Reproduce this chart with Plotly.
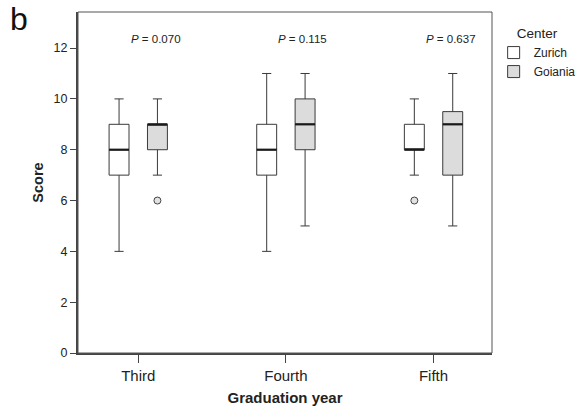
import plotly.graph_objects as go

# ---- data ----
categories = ["Third", "Fourth", "Fifth"]
groups = ["Zurich", "Goiania"]

zurich_low = [4, 4, 7]
zurich_q1 = [7, 7, 8]
zurich_median = [8, 8, 8]
zurich_q3 = [9, 9, 9]
zurich_high = [10, 11, 10]
zurich_outliers = {"Fifth": [6]}

goiania_low = [7, 5, 5]
goiania_q1 = [8, 8, 7]
goiania_median = [9, 9, 9]
goiania_q3 = [9, 10, 9.5]
goiania_high = [10, 11, 11]
goiania_outliers = {"Third": [6]}

p_values = ["0.070", "0.115", "0.637"]

y_ticks = [0, 2, 4, 6, 8, 10, 12]

# ---- style ----
FONT = "Liberation Sans, Arial, sans-serif"
LINE = "#3a3a3a"
OFFSET = 0.13
BOX_W = 0.135
CAP_W = 0.062
fills = {"Zurich": "#ffffff", "Goiania": "#dcdcdd"}

series = {
    "Zurich": dict(low=zurich_low, q1=zurich_q1, med=zurich_median, q3=zurich_q3,
                   high=zurich_high, out=zurich_outliers, off=-OFFSET),
    "Goiania": dict(low=goiania_low, q1=goiania_q1, med=goiania_median, q3=goiania_q3,
                    high=goiania_high, out=goiania_outliers, off=OFFSET),
}

fig = go.Figure()
idx = list(range(len(categories)))

for name in groups:
    s = series[name]
    xs = [i + s["off"] for i in idx]
    fig.add_trace(go.Box(
        name=name, x=xs, q1=s["q1"], median=s["med"], q3=s["q3"],
        lowerfence=s["low"], upperfence=s["high"], width=BOX_W,
        fillcolor=fills[name], line=dict(color=LINE, width=1),
        boxpoints=False, whiskerwidth=0, showlegend=True, hoverinfo="skip",
    ))
    # whisker caps
    cx, cy = [], []
    for x, lo, hi in zip(xs, s["low"], s["high"]):
        for v in (lo, hi):
            cx += [x - CAP_W / 2, x + CAP_W / 2, None]
            cy += [v, v, None]
    fig.add_trace(go.Scatter(x=cx, y=cy, mode="lines", line=dict(color=LINE, width=1),
                             showlegend=False, hoverinfo="skip"))
    # thick medians
    mx, my = [], []
    for x, m in zip(xs, s["med"]):
        mx += [x - BOX_W / 2, x + BOX_W / 2, None]
        my += [m, m, None]
    fig.add_trace(go.Scatter(x=mx, y=my, mode="lines", line=dict(color="#1a1a1a", width=2.2),
                             showlegend=False, hoverinfo="skip"))
    # outliers
    ox, oy = [], []
    for cat, vals in s["out"].items():
        for v in vals:
            ox.append(categories.index(cat) + s["off"])
            oy.append(v)
    fig.add_trace(go.Scatter(x=ox, y=oy, mode="markers",
                             marker=dict(symbol="circle", size=7, color="#e2e2e2",
                                         line=dict(color="#444", width=1)),
                             showlegend=False, hoverinfo="skip"))

annotations = []
for i, p in zip(idx, p_values):
    annotations.append(dict(
        x=i - 0.065, y=12.36, xref="x", yref="y", xanchor="left", yanchor="middle",
        text="<i>P</i> = " + p, showarrow=False,
        font=dict(family=FONT, size=11.5, color="#222")))
annotations.append(dict(
    x=-0.168, y=1.038, xref="paper", yref="paper", xanchor="left", yanchor="top",
    text="b", showarrow=False, font=dict(family=FONT, size=32, color="#111")))

fig.update_layout(
    width=582, height=412, autosize=False,
    margin=dict(l=78, r=90, t=12, b=59, autoexpand=False),
    paper_bgcolor="white", plot_bgcolor="white",
    boxmode="overlay",
    font=dict(family=FONT, color="#222"),
    showlegend=True,
    legend=dict(
        x=1.004, y=0.975, xanchor="left", yanchor="top",
        title=dict(text="Center", font=dict(family=FONT, size=13.5, color="#222"), side="top center"),
        font=dict(family=FONT, size=12, color="#222"),
        bgcolor="rgba(0,0,0,0)", tracegroupgap=0, itemwidth=30,
    ),
    xaxis=dict(
        range=[-0.408, 2.396], tickmode="array", tickvals=idx, ticktext=categories,
        showgrid=False, zeroline=False, showline=True, linecolor="#444", linewidth=2,
        ticks="outside", ticklen=8, tickcolor="#444", tickwidth=1, automargin=False,
        tickfont=dict(family=FONT, size=15, color="#222"),
        title=dict(text="<b>Graduation year</b>", font=dict(family=FONT, size=15, color="#222"),
                   standoff=9),
    ),
    yaxis=dict(
        range=[0, 13.42], tickmode="array", tickvals=y_ticks,
        showgrid=False, zeroline=False, showline=True, linecolor="#444", linewidth=2,
        ticks="outside", ticklen=6, tickcolor="#444", tickwidth=1, automargin=False,
        tickfont=dict(family=FONT, size=12.5, color="#222"),
        title=dict(text="<b>Score</b>", font=dict(family=FONT, size=14.5, color="#222"),
                   standoff=7),
    ),
    shapes=[dict(type="rect", xref="paper", yref="paper", x0=0, x1=1, y0=0, y1=1,
                 line=dict(color="#555", width=1), fillcolor="rgba(0,0,0,0)", layer="above")],
    annotations=annotations,
)

fig.write_html(
    "out.html",
    config={"displayModeBar": False},
    post_script="document.body.style.margin='0';document.body.style.padding='0';document.body.style.overflow='hidden';",
)
